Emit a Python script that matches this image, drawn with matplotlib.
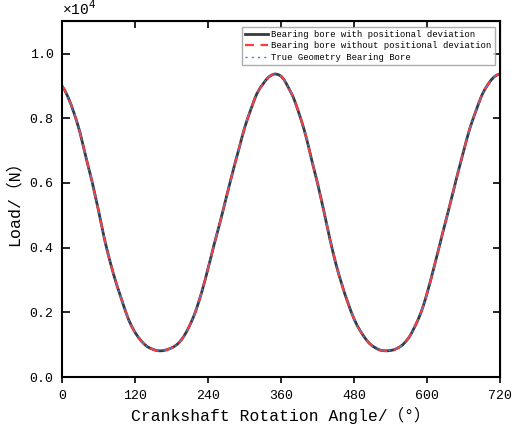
import matplotlib
matplotlib.use("Agg")
import matplotlib.pyplot as plt

plt.rcParams['font.family'] = ['Liberation Mono', 'Noto Sans CJK SC']

angle = list(range(0, 721, 5))
load = [0.900, 0.885, 0.865, 0.842, 0.815, 0.786, 0.753, 0.714, 0.675, 0.638,
        0.600, 0.558, 0.515, 0.470, 0.425, 0.386, 0.350, 0.316, 0.285, 0.256,
        0.228, 0.200, 0.175, 0.155, 0.138, 0.124, 0.112, 0.102, 0.094, 0.089,
        0.085, 0.082, 0.081, 0.081, 0.083, 0.086, 0.090, 0.095, 0.102, 0.112,
        0.125, 0.141, 0.160, 0.181, 0.205, 0.234, 0.265, 0.299, 0.335, 0.372,
        0.410, 0.445, 0.480, 0.518, 0.555, 0.593, 0.630, 0.666, 0.700, 0.736,
        0.770, 0.799, 0.825, 0.852, 0.875, 0.892, 0.905, 0.918, 0.928, 0.934,
        0.937, 0.935, 0.930, 0.919, 0.902, 0.884, 0.865, 0.840, 0.812, 0.783,
        0.750, 0.713, 0.673, 0.636, 0.598, 0.557, 0.515, 0.471, 0.428, 0.388,
        0.350, 0.316, 0.285, 0.255, 0.228, 0.202, 0.179, 0.159, 0.143, 0.128,
        0.115, 0.104, 0.096, 0.090, 0.085, 0.082, 0.081, 0.081, 0.082, 0.084,
        0.088, 0.093, 0.100, 0.110, 0.122, 0.138, 0.157, 0.177, 0.200, 0.228,
        0.260, 0.294, 0.330, 0.367, 0.405, 0.442, 0.478, 0.515, 0.552, 0.590,
        0.628, 0.664, 0.700, 0.735, 0.768, 0.796, 0.822, 0.848, 0.872, 0.890,
        0.905, 0.918, 0.928, 0.934, 0.937]
series_labels = ["Bearing bore with positional deviation",
                 "Bearing bore without positional deviation",
                 "True Geometry Bearing Bore"]
x_ticks = [0, 120, 240, 360, 480, 600, 720]
y_ticks = [0.0, 0.2, 0.4, 0.6, 0.8, 1.0]

fig = plt.figure(figsize=(5.12, 4.32), dpi=100)
ax = fig.add_axes([0.121, 0.1273, 0.856, 0.8237])

ax.plot(angle, load, color='#3a3a3a', lw=2.0, ls='-', label=series_labels[0])
ax.plot(angle, load, color='#ff3b3b', lw=1.6, ls=(0, (4, 3)), label=series_labels[1])
ax.plot(angle, load, color='#3f7fe0', lw=1.0, ls=(0, (1.5, 3)), label=series_labels[2])

ax.set_xlim(0, 720)
ax.set_ylim(0, 1.1)
ax.set_xticks(x_ticks)
ax.set_yticks(y_ticks)
ax.set_xticklabels([str(t) for t in x_ticks], fontsize=9.5)
ax.set_yticklabels([f"{t:.1f}" for t in y_ticks], fontsize=9.5)
ax.tick_params(axis='x', direction='out', length=4, width=1.2, top=False, pad=5)
ax.tick_params(axis='y', direction='in', length=6, width=1.2, right=False, pad=6)
for s in ax.spines.values():
    s.set_linewidth(1.5)

sx = ax.secondary_xaxis('top')
sx.set_xticks(x_ticks)
sx.tick_params(direction='in', length=5, width=1.2, labeltop=False)
sy = ax.secondary_yaxis('right')
sy.set_yticks(y_ticks)
sy.tick_params(direction='in', length=5, width=1.2, labelright=False)

ax.set_xlabel("Crankshaft Rotation Angle/（°）", fontsize=11.8, labelpad=4)
ax.set_ylabel("Load/（N）", fontsize=12, labelpad=6)
ax.text(0.0, 1.008, "×10$^4$", transform=ax.transAxes, fontsize=10.5,
        ha='left', va='bottom')

leg = ax.legend(loc='upper right', fontsize=6.4, frameon=True, fancybox=False,
                edgecolor='#999999', borderpad=0.35, labelspacing=0.3,
                handlelength=2.6, handletextpad=0.4, borderaxespad=0.6)
leg.get_frame().set_linewidth(1.0)

assert len(angle) == len(load)
fig.savefig("out.png", dpi=100)
